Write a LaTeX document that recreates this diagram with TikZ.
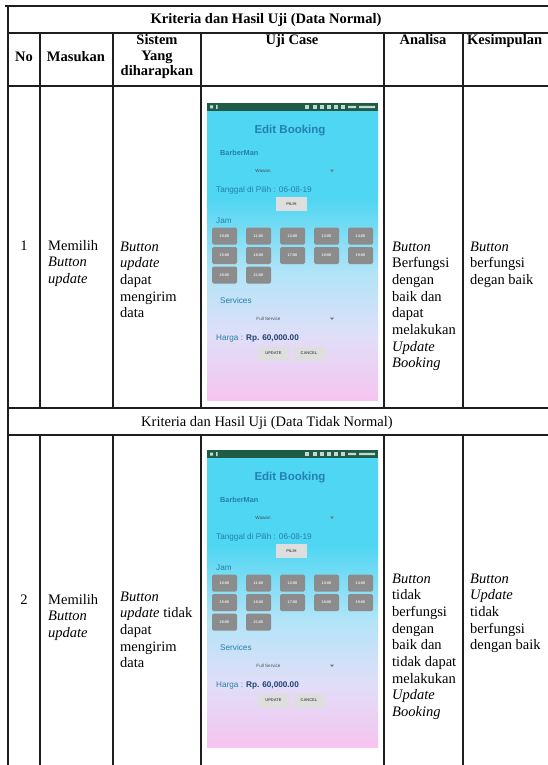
\documentclass[tikz,border=0pt]{standalone}
\usepackage{fontspec}
\setmainfont{Liberation Serif}
\newfontfamily\appfont{Liberation Sans}
\definecolor{phcyan}{RGB}{78,214,242}
\definecolor{phlight}{RGB}{178,228,248}
\definecolor{phlav}{RGB}{224,222,248}
\definecolor{phpink}{RGB}{246,196,240}
\definecolor{statusgreen}{RGB}{30,92,70}
\definecolor{appteal}{RGB}{36,128,170}
\definecolor{apptitlec}{RGB}{36,128,180}
\definecolor{slotgray}{RGB}{140,140,140}
\definecolor{btngray}{RGB}{222,222,222}
\definecolor{hargablue}{RGB}{30,66,115}
\definecolor{gridc}{RGB}{30,30,30}
\pgfdeclareverticalshading{appbg}{100bp}{color(0bp)=(phpink); color(25bp)=(phpink); color(36bp)=(phlav); color(47bp)=(phlight); color(60bp)=(phcyan); color(100bp)=(phcyan)}
\newcommand\mycellL[1]{\begin{tabular}[t]{@{}l@{}}#1\end{tabular}}
\newcommand\mycellC[1]{\begin{tabular}[t]{@{}c@{}}#1\end{tabular}}
\tikzset{
  gridline/.style={line width=1.2pt, draw=gridc},
  hdr/.style={inner sep=0pt, font=\bfseries\fontsize{14.5}{15.5}\selectfont},
  body/.style={inner sep=0pt, anchor=base west, font=\fontsize{14.5}{16.7}\selectfont},
  apptitle/.style={inner sep=0pt, text=apptitlec, font=\appfont\bfseries\fontsize{11.5}{13}\selectfont},
  applabel/.style={inner sep=0pt, anchor=west, text=appteal, font=\appfont\fontsize{8.2}{9}\selectfont},
  appsmall/.style={inner sep=0pt, text=black!70, font=\appfont\fontsize{4.6}{5}\selectfont},
  slotbox/.style={fill=slotgray, rounded corners=1.5pt, minimum width=25, minimum height=17, inner sep=0pt, text=white!92!black, font=\appfont\bfseries\fontsize{3.8}{4}\selectfont},
  lightbtn/.style={fill=btngray, minimum width=31, minimum height=14, inner sep=0pt, text=black!65, font=\appfont\bfseries\fontsize{4}{4.5}\selectfont}
}
\begin{document}
\begin{tikzpicture}[x=1pt,y=-1pt]
\useasboundingbox (0,0) rectangle (548,765);
\fill[white] (0,0) rectangle (548,765);
\clip (0,0) rectangle (548,765);

% phone screenshots
\foreach \k/\py in {1/103,2/450}{
\begin{scope}[shift={(207,\py)}]
  \shade[shading=appbg] (0,8) rectangle (171,297);
  \fill[statusgreen] (0,0) rectangle (171,8);
  \fill[white!75!statusgreen] (3,2.5) rectangle (6,5.5) (9,2) rectangle (10.5,6);
  \foreach \sx in {98,106,113,120,127,134}{\fill[white!75!statusgreen] (\sx,2.3) rectangle (\sx+3.5,5.7);}
  \fill[white!75!statusgreen] (141,2.8) rectangle (149,5.2) (152,2.8) rectangle (168,5.2);
  \node[apptitle] (ttl\k) at (83,28) {Edit Booking};
  \node[applabel, font=\appfont\bfseries\fontsize{7.3}{8}\selectfont] (bm\k) at (13,50) {BarberMan};
  \node[appsmall] (ww\k) at (56,68) {Wawan};
  \fill[black!55] (123,66.5) -- (127,66.5) -- (125,69) -- cycle;
  \node[applabel] (tg\k) at (9,87) {Tanggal di Pilih : 06-08-19};
  \node[lightbtn] (pl\k) at (84.5,101) {PILIH};
  \node[applabel] (jm\k) at (9,118) {Jam};
  \foreach \t [count=\i from 0] in {10:00,11:00,12:00,13:00,14:00,15:00,16:00,17:00,18:00,19:00,20:00,21:00}{
    \pgfmathtruncatemacro\cc{mod(\i,5)}
    \pgfmathtruncatemacro\rr{\i/5}
    \node[slotbox] (slot\k-\i) at (17.5+34*\cc,133+19.5*\rr) {\t};
  }
  \node[applabel] (sv\k) at (13,198) {Services};
  \node[appsmall] (fs\k) at (61.5,216) {Full Service};
  \fill[black!55] (123,214.5) -- (127,214.5) -- (125,217) -- cycle;
  \node[applabel] (hg\k) at (9,235) {Harga : \textcolor{hargablue}{\bfseries Rp. 60,000.00}};
  \node[lightbtn] (up\k) at (66.5,250.5) {UPDATE};
  \node[lightbtn] (cn\k) at (102,250.5) {CANCEL};
\end{scope}
}

% header texts
\node[hdr, anchor=base] (t1) at (266,24) {Kriteria dan Hasil Uji (Data Normal)};
\node[hdr, anchor=base] (hNo) at (24,62) {No};
\node[hdr, anchor=base] (hMas) at (76,62) {Masukan};
\node[hdr, anchor=base] (hSis) at (157,45) {\mycellC{Sistem\\Yang\\diharapkan}};
\node[hdr, anchor=base] (hUji) at (292,45) {Uji Case};
\node[hdr, anchor=base] (hAna) at (423,45) {Analisa};
\node[hdr, anchor=base west] (hKes) at (467,45) {Kesimpulan};

% row 1
\node[body, anchor=base] (n1) at (24,250) {1};
\node[body] (m1) at (48,250) {\mycellL{Memilih\\\emph{Button}\\\emph{update}}};
\node[body] (s1) at (120,251) {\mycellL{\emph{Button}\\\emph{update}\\dapat\\mengirim\\data}};
\node[body] (a1) at (392,251) {\mycellL{\emph{Button}\\Berfungsi\\dengan\\baik dan\\dapat\\melakukan\\\emph{Update}\\\emph{Booking}}};
\node[body] (k1) at (470,251) {\mycellL{\emph{Button}\\berfungsi\\degan baik}};

% second title
\node[inner sep=0pt, anchor=base, font=\fontsize{14.5}{16}\selectfont] (t2) at (267,426) {Kriteria dan Hasil Uji (Data Tidak Normal)};

% row 2
\node[body, anchor=base] (n2) at (24,604) {2};
\node[body] (m2) at (48,604) {\mycellL{Memilih\\\emph{Button}\\\emph{update}}};
\node[body] (s2) at (120,601) {\mycellL{\emph{Button}\\\emph{update} tidak\\dapat\\mengirim\\data}};
\node[body] (a2) at (392,583) {\mycellL{\emph{Button}\\tidak\\berfungsi\\dengan\\baik dan\\tidak dapat\\melakukan\\\emph{Update}\\\emph{Booking}}};
\node[body] (k2) at (470,583) {\mycellL{\emph{Button}\\\emph{Update}\\tidak\\berfungsi\\dengan baik}};

% grid
\draw[gridline] (5,6) -- (548,6);
\draw[gridline] (8,33) -- (548,33);
\draw[gridline] (8,86) -- (548,86);
\draw[gridline] (8,408) -- (548,408);
\draw[gridline] (8,435) -- (548,435);
\draw[gridline] (8,6) -- (8,765);
\foreach \vx in {40,113,201,384,463}{
  \draw[gridline] (\vx,33) -- (\vx,408);
  \draw[gridline] (\vx,435) -- (\vx,765);
}
\end{tikzpicture}
\end{document}
